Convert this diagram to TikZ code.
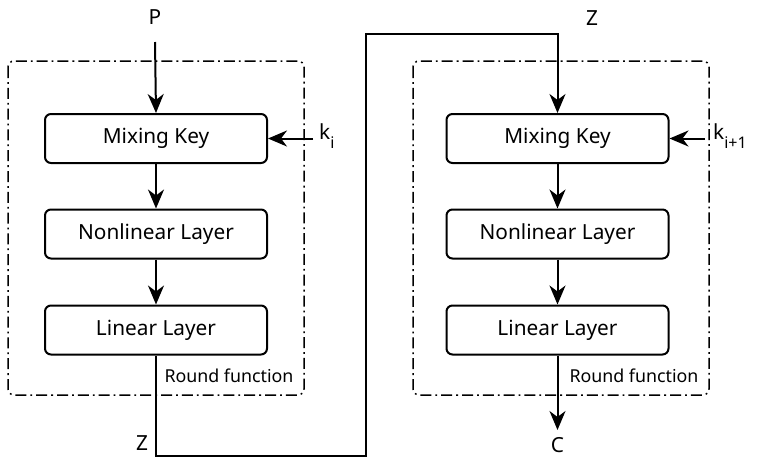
\documentclass[tikz,border=0pt]{standalone}
\usepackage{fontspec}
\setmainfont{Noto Sans}
\usetikzlibrary{arrows.meta}
\begin{document}
\begin{tikzpicture}[x=1pt,y=-1pt,
  blk/.style={draw, line width=2pt, rounded corners=6pt, minimum width=222pt, minimum height=49pt, inner sep=0pt, font=\fontsize{20.8}{23}\selectfont},
  rnd/.style={draw, line width=1.5pt, rounded corners=6pt, dash pattern=on 11pt off 4pt on 1.8pt off 4pt},
  lbl/.style={inner sep=0pt, font=\fontsize{20.8}{23}\selectfont},
  small/.style={inner sep=0pt, font=\fontsize{17.8}{20}\selectfont},
  arr/.style={line width=2pt, -{Stealth[length=19pt,width=16pt,inset=6pt]}},
  wire/.style={line width=2pt}]
\useasboundingbox (0,0) rectangle (763,459);
% round function frames
\draw[rnd] (8,61) rectangle (304,395);
\draw[rnd] (413,61) rectangle (709,395);
% blocks
\node[blk] (mk1) at (156,138.5) {Mixing Key};
\node[blk] (nl1) at (156,234) {Nonlinear Layer};
\node[blk] (ll1) at (156,330) {Linear Layer};
\node[blk] (mk2) at (557.5,138.5) {Mixing Key};
\node[blk] (nl2) at (557.5,234) {Nonlinear Layer};
\node[blk] (ll2) at (557.5,330) {Linear Layer};
% labels
\node[lbl] (P) at (155,17) {P};
\coordinate (ps) at (155,42);
\coordinate (k1s) at (313,138.5);
\node[lbl, anchor=west] (k1) at (319,136) {k\raisebox{-0.4em}{\fontsize{16}{16}\selectfont i}};
\coordinate (k2s) at (705,138.5);
\node[lbl, anchor=west] (k2) at (713,136) {k\raisebox{-0.4em}{\fontsize{16}{16}\selectfont i+1}};
\node[lbl] (z1) at (142,443) {Z};
\node[lbl] (z2) at (592,18) {Z};
\node[lbl] (C) at (557.5,445) {C};
\coordinate (cs) at (557.5,430);
\node[small] (rf1) at (229,376) {Round function};
\node[small] (rf2) at (634,376) {Round function};
% corners of the Z wire
\coordinate (w1) at (156,456);
\coordinate (w2) at (366,456);
\coordinate (w3) at (366,34);
\coordinate (w4) at (557.5,34);
% connectors
\draw[arr] (ps) -- (mk1.north);
\draw[arr] (k1s) -- (mk1.east);
\draw[arr] (mk1) -- (nl1);
\draw[arr] (nl1) -- (ll1);
\draw[arr] (ll1.south) -- (w1) -- (w2) -- (w3) -- (w4) -- (mk2.north);
\draw[arr] (k2s) -- (mk2.east);
\draw[arr] (mk2) -- (nl2);
\draw[arr] (nl2) -- (ll2);
\draw[arr] (ll2.south) -- (cs);
\end{tikzpicture}
\end{document}
